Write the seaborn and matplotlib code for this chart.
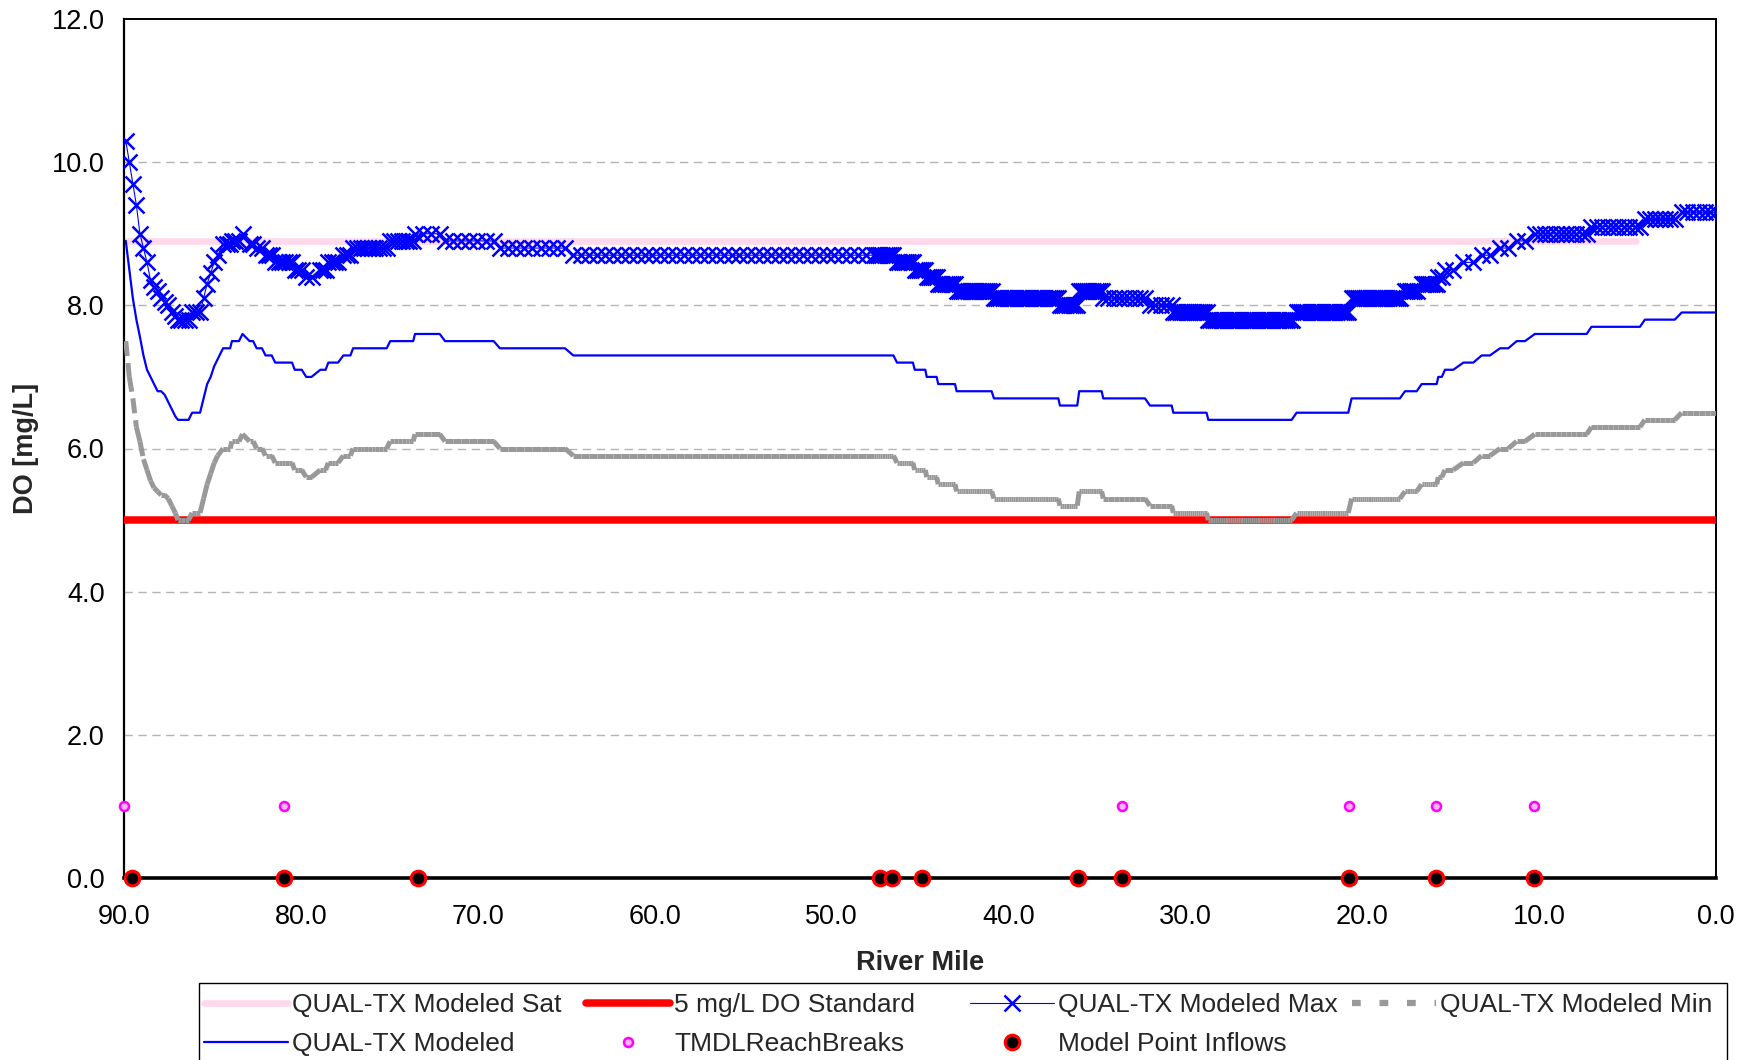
import numpy as np
import pandas as pd
import matplotlib
matplotlib.use("Agg")
import matplotlib.pyplot as plt
from matplotlib.collections import LineCollection
from matplotlib.lines import Line2D
from matplotlib.patches import Rectangle
from matplotlib.ticker import MultipleLocator, FormatStrFormatter
import seaborn as sns

# ---------------- data ----------------
# constant-valued runs along the river: upstream mile, downstream mile, DO values
run_up = [89.9, 89.7, 89.5, 89.3, 89.1, 88.9, 88.7, 88.5, 88.3, 88.1, 87.9, 87.7, 87.5, 87.3, 87.1,
          86.95, 86.15, 85.5, 85.3, 85.1, 84.9, 84.7, 84.4, 83.9, 83.3, 82.9, 82.5, 82.0, 81.45,
          80.35, 79.7, 78.9, 78.45, 77.6, 77.05, 74.95, 73.55, 71.85, 68.75, 64.6, 47.5, 46.3,
          45.3, 44.62, 43.97, 42.93, 40.82, 37.09, 36.0, 34.64, 32.0, 30.68, 28.7, 23.71, 20.6,
          17.58, 16.64, 15.7, 15.32, 14.28, 13.25, 12.21, 11.27, 10.24, 7.04, 4.02, 1.94]
run_dn = [89.9, 89.7, 89.5, 89.3, 89.1, 88.9, 88.7, 88.5, 88.3, 88.1, 87.9, 87.7, 87.5, 87.3, 87.1,
          86.35, 85.7, 85.5, 85.3, 85.1, 84.9, 84.7, 84.0, 83.5, 83.3, 82.7, 82.2, 81.65, 80.5,
          79.95, 79.4, 78.6, 77.9, 77.2, 75.15, 73.65, 72.15, 69.1, 65.07, 47.6, 46.5, 45.4,
          44.7, 44.06, 43.02, 40.95, 37.18, 36.11, 34.73, 32.28, 30.77, 28.8, 23.99, 20.79, 17.87,
          16.92, 15.79, 15.5, 14.85, 13.72, 12.78, 11.74, 10.80, 7.31, 4.3, 2.33, 0.0]
do_modeled = [8.9, 8.5, 8.1, 7.8, 7.56, 7.3, 7.1, 7.0, 6.9, 6.8, 6.8, 6.75, 6.65, 6.55, 6.45,
              6.4, 6.5, 6.7, 6.9, 7.0, 7.15, 7.25, 7.4, 7.5, 7.6, 7.5, 7.4, 7.3, 7.2,
              7.1, 7.0, 7.1, 7.2, 7.3, 7.4, 7.5, 7.6, 7.5, 7.4, 7.3, 7.3, 7.2,
              7.1, 7.0, 6.9, 6.8, 6.7, 6.6, 6.8, 6.7, 6.6, 6.5, 6.4, 6.5, 6.7,
              6.8, 6.9, 7.0, 7.1, 7.2, 7.3, 7.4, 7.5, 7.6, 7.7, 7.8, 7.9]
do_max = [10.3, 10.0, 9.7, 9.4, 9.0, 8.8, 8.6, 8.35, 8.25, 8.2, 8.1, 8.05, 8.0, 7.9, 7.85,
          7.8, 7.9, 8.1, 8.3, 8.45, 8.6, 8.7, 8.85, 8.9, 9.0, 8.85, 8.8, 8.7, 8.6,
          8.5, 8.4, 8.5, 8.6, 8.7, 8.8, 8.9, 9.0, 8.9, 8.8, 8.7, 8.7, 8.6,
          8.5, 8.4, 8.3, 8.2, 8.1, 8.0, 8.2, 8.1, 8.0, 7.9, 7.8, 7.9, 8.1,
          8.2, 8.3, 8.4, 8.5, 8.6, 8.7, 8.8, 8.9, 9.0, 9.1, 9.2, 9.3]
do_min = [7.5, 7.0, 6.7, 6.3, 6.1, 5.85, 5.7, 5.55, 5.45, 5.4, 5.35, 5.35, 5.3, 5.2, 5.1,
          5.0, 5.1, 5.3, 5.5, 5.65, 5.8, 5.9, 6.0, 6.1, 6.2, 6.1, 6.0, 5.9, 5.8,
          5.7, 5.6, 5.7, 5.8, 5.9, 6.0, 6.1, 6.2, 6.1, 6.0, 5.9, 5.9, 5.8,
          5.7, 5.6, 5.5, 5.4, 5.3, 5.2, 5.4, 5.3, 5.2, 5.1, 5.0, 5.1, 5.3,
          5.4, 5.5, 5.6, 5.7, 5.8, 5.9, 6.0, 6.1, 6.2, 6.3, 6.4, 6.5]

# model element length by reach (controls how densely the Max markers sit)
reach_bounds = [90.0, 73.3, 47.55, 34.68, 30.72, 16.0, 10.3, -0.1]
reach_elem = [0.2, 0.45, 0.12, 0.3, 0.12, 0.5, 0.3]

sat_miles = [90.0, 4.5]
sat_do = [8.9, 8.9]
std_miles = [90.0, 0.0]
std_do = [5.0, 5.0]

reach_break_miles = [89.99, 80.93, 33.58, 20.77, 15.83, 10.28]
reach_break_do = [1.0, 1.0, 1.0, 1.0, 1.0, 1.0]
inflow_miles = [89.57, 80.93, 73.37, 47.27, 46.56, 44.89, 36.07, 33.58, 20.77, 15.83, 10.28]
inflow_do = [0.0] * 11

x_ticks = [90, 80, 70, 60, 50, 40, 30, 20, 10, 0]
y_ticks = [0, 2, 4, 6, 8, 10, 12]


# ---------------- expand runs onto the model elements ----------------
def elem_len(m):
    for i in range(len(reach_elem)):
        if reach_bounds[i + 1] <= m <= reach_bounds[i]:
            return reach_elem[i]
    return reach_elem[-1]


rows = []
for a, b, vm, vx, vn in zip(run_up, run_dn, do_modeled, do_max, do_min):
    if a > b:
        L = elem_len((a + b) / 2)
        n = max(2, int(round((a - b) / L)) + 1)
        pts = np.linspace(a, b, n)
    else:
        pts = [a]
    for p in pts:
        rows.append((p, vm, vx, vn))
prof = pd.DataFrame(rows, columns=["mile", "modeled", "max", "min"])

# ---------------- figure ----------------
sns.set_theme(style="white")
plt.rcParams["font.family"] = ["Liberation Sans", "DejaVu Sans"]
FS = 19.5
LFS = 19.0

W, H = 1752, 1060
fig = plt.figure(figsize=(W / 100, H / 100), dpi=100)
ax = fig.add_axes([124 / W, 1 - 878 / H, (1716 - 124) / W, (878 - 19) / H])

grid_kw = dict(color="#b4b4b4", lw=1.0, dashes=(6, 4), zorder=0)
for yv in y_ticks[1:-1]:
    ax.axhline(yv, **grid_kw)

blue = "#0000ff"
sat_col = "#ffd8ec"
# Sat
sns.lineplot(x=sat_miles, y=sat_do, ax=ax, color=sat_col, lw=4.8, sort=False,
             estimator=None, zorder=2)
# 5 mg/L standard
ax.plot(std_miles, std_do, color="#ff0000", lw=5.4, solid_capstyle="round", zorder=3)
# Max
sns.lineplot(data=prof, x="mile", y="max", ax=ax, color=blue, lw=0.8, sort=False,
             estimator=None, marker="x", markersize=11, markeredgewidth=1.8,
             markeredgecolor=blue, zorder=4)
# Min : each element segment dashed separately (pattern restarts per segment)
pts = np.column_stack([prof["mile"].values, prof["min"].values])
segs = np.stack([pts[:-1], pts[1:]], axis=1)
lc = LineCollection(segs, colors="#999999", linewidths=3.6,
                    linestyles=[(0, (3.0, 1.4))], capstyle="butt", zorder=5)
ax.add_collection(lc)
# Modeled
sns.lineplot(data=prof, x="mile", y="modeled", ax=ax, color=blue, lw=1.6, sort=False,
             estimator=None, zorder=6)
# TMDL reach breaks
ax.plot(reach_break_miles, reach_break_do, ls="none", marker="o", markersize=6.5,
        markerfacecolor="#ffb0ff", markeredgecolor="#ff00ff", markeredgewidth=1.8,
        clip_on=False, zorder=7)
# Model point inflows
ax.plot(inflow_miles, inflow_do, ls="none", marker="o", markersize=10.5,
        markerfacecolor="black", markeredgecolor="#ff0000", markeredgewidth=2.2,
        clip_on=False, zorder=8)

# ---------------- axes ----------------
ax.set_xlim(90, 0)
ax.set_ylim(0, 12)
ax.set_xticks(x_ticks)
ax.set_yticks(y_ticks)
ax.xaxis.set_minor_locator(MultipleLocator(2))
ax.yaxis.set_minor_locator(MultipleLocator(0.5))
ax.xaxis.set_major_formatter(FormatStrFormatter("%.1f"))
ax.yaxis.set_major_formatter(FormatStrFormatter("%.1f"))
ax.tick_params(axis="x", which="major", direction="out", length=7, width=1.2, pad=12,
               labelsize=FS, colors="black")
ax.tick_params(axis="x", which="minor", direction="in", length=5, width=1.0)
ax.tick_params(axis="y", which="major", direction="out", length=5, width=1.2, pad=9,
               labelsize=FS, colors="black")
ax.tick_params(axis="y", which="minor", direction="in", length=5, width=1.0)
for side, w in [("left", 1.6), ("bottom", 2.6), ("top", 1.4), ("right", 1.4)]:
    ax.spines[side].set_color("black")
    ax.spines[side].set_linewidth(w)
    ax.spines[side].set_visible(True)
ax.set_xlabel("River Mile", fontsize=FS, fontweight="bold", labelpad=14)
ax.set_ylabel("DO [mg/L]", fontsize=FS, fontweight="bold", labelpad=9)
ax.grid(False)

# ---------------- legend (Excel style: equal-width columns) ----------------
h_sat = Line2D([], [], color=sat_col, lw=4.8)
h_std = Line2D([], [], color="#ff0000", lw=5.4, solid_capstyle="round")
h_max = Line2D([], [], color=blue, lw=0.8, marker="x", markersize=12, markeredgewidth=1.8)
h_min = Line2D([], [], color="#999999", lw=4.5, dashes=(1.4, 3.0))
h_mod = Line2D([], [], color=blue, lw=1.6)
h_tmdl = Line2D([], [], ls="none", marker="o", markersize=6.5, markerfacecolor="#ffb0ff",
                markeredgecolor="#ff00ff", markeredgewidth=1.8)
h_inf = Line2D([], [], ls="none", marker="o", markersize=10.5, markerfacecolor="black",
               markeredgecolor="#ff0000", markeredgewidth=2.2)
columns = [
    ([h_sat, h_mod], ["QUAL-TX Modeled Sat", "QUAL-TX Modeled"]),
    ([h_std, h_tmdl], ["5 mg/L DO Standard", "TMDLReachBreaks"]),
    ([h_max, h_inf], ["QUAL-TX Modeled Max", "Model Point Inflows"]),
    ([h_min], ["QUAL-TX Modeled Min"]),
]
col_x = [204, 586, 970, 1352]
leg_top = 993
for (hs, ls), cx in zip(columns, col_x):
    fig.legend(hs, ls, loc="upper left", bbox_to_anchor=(cx / W, 1 - leg_top / H),
               frameon=False, borderaxespad=0, borderpad=0, handlelength=3.2,
               handletextpad=0.15, labelspacing=0.56, fontsize=LFS)
fig.add_artist(Rectangle((199 / W, -0.05), (1727 - 199) / W, 0.05 + 1 - 983 / H,
                         transform=fig.transFigure, fill=False, edgecolor="black", lw=1.0))

fig.savefig("out.png", dpi=100)
